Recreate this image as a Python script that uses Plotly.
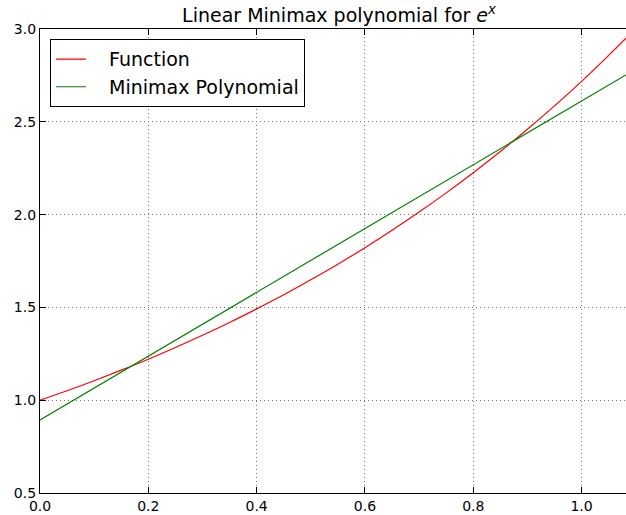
import plotly.graph_objects as go

# Function curve (e^x)
func_x = [0.0, 0.05, 0.1, 0.15, 0.2, 0.25, 0.3, 0.35, 0.4, 0.45, 0.5, 0.55,
          0.6, 0.65, 0.7, 0.75, 0.8, 0.85, 0.9, 0.95, 1.0, 1.05, 1.1]
func_y = [1.000, 1.051, 1.105, 1.162, 1.221, 1.284, 1.350, 1.419, 1.492, 1.568,
          1.649, 1.733, 1.822, 1.916, 2.014, 2.117, 2.226, 2.340, 2.460, 2.586,
          2.718, 2.858, 3.004]

# Minimax linear polynomial
poly_x = [0.0, 1.1]
poly_y = [0.894, 2.784]

x_ticks = [0.0, 0.2, 0.4, 0.6, 0.8, 1.0]
y_ticks = [0.5, 1.0, 1.5, 2.0, 2.5, 3.0]

pad = "\u00a0\u00a0\u00a0"

fig = go.Figure()
fig.add_trace(go.Scatter(x=func_x, y=func_y, mode="lines", name=pad + "Function",
                         line=dict(color="#ff0000", width=1.2, shape="spline")))
fig.add_trace(go.Scatter(x=poly_x, y=poly_y, mode="lines", name=pad + "Minimax Polynomial",
                         line=dict(color="#008000", width=1.2)))

grid = dict(showgrid=True, gridcolor="#777", griddash="1px,3px", gridwidth=1)

fig.update_layout(
    width=626, height=515,
    margin=dict(l=40, r=0, t=29, b=22),
    paper_bgcolor="white", plot_bgcolor="white",
    font=dict(family="DejaVu Sans", color="black", size=14),
    title=dict(text="Linear Minimax polynomial for <i>e<sup>x</sup></i>",
               x=339/626, xref="container", xanchor="center",
               y=1 - 15/515, yref="container", yanchor="middle",
               font=dict(size=19)),
    showlegend=True,
    legend=dict(x=0.017, y=0.978, xanchor="left", yanchor="top",
                bgcolor="white", bordercolor="black", borderwidth=1,
                font=dict(size=19), tracegroupgap=0, itemwidth=30),
    xaxis=dict(range=[0, 1.082], tickvals=x_ticks, tickformat=".1f", **grid,
               showline=True, linecolor="black", linewidth=1.2, mirror="allticks",
               ticks="inside", ticklen=6, tickcolor="black", zeroline=False,
               tickfont=dict(size=14)),
    yaxis=dict(range=[0.5, 3.0], tickvals=y_ticks, tickformat=".1f", **grid,
               showline=True, linecolor="black", linewidth=1.2,
               ticks="inside", ticklen=6, tickcolor="black", zeroline=False,
               tickfont=dict(size=14)),
)

fig.write_html("out.html", config={"displayModeBar": False},
               post_script="document.body.style.margin='0';")
